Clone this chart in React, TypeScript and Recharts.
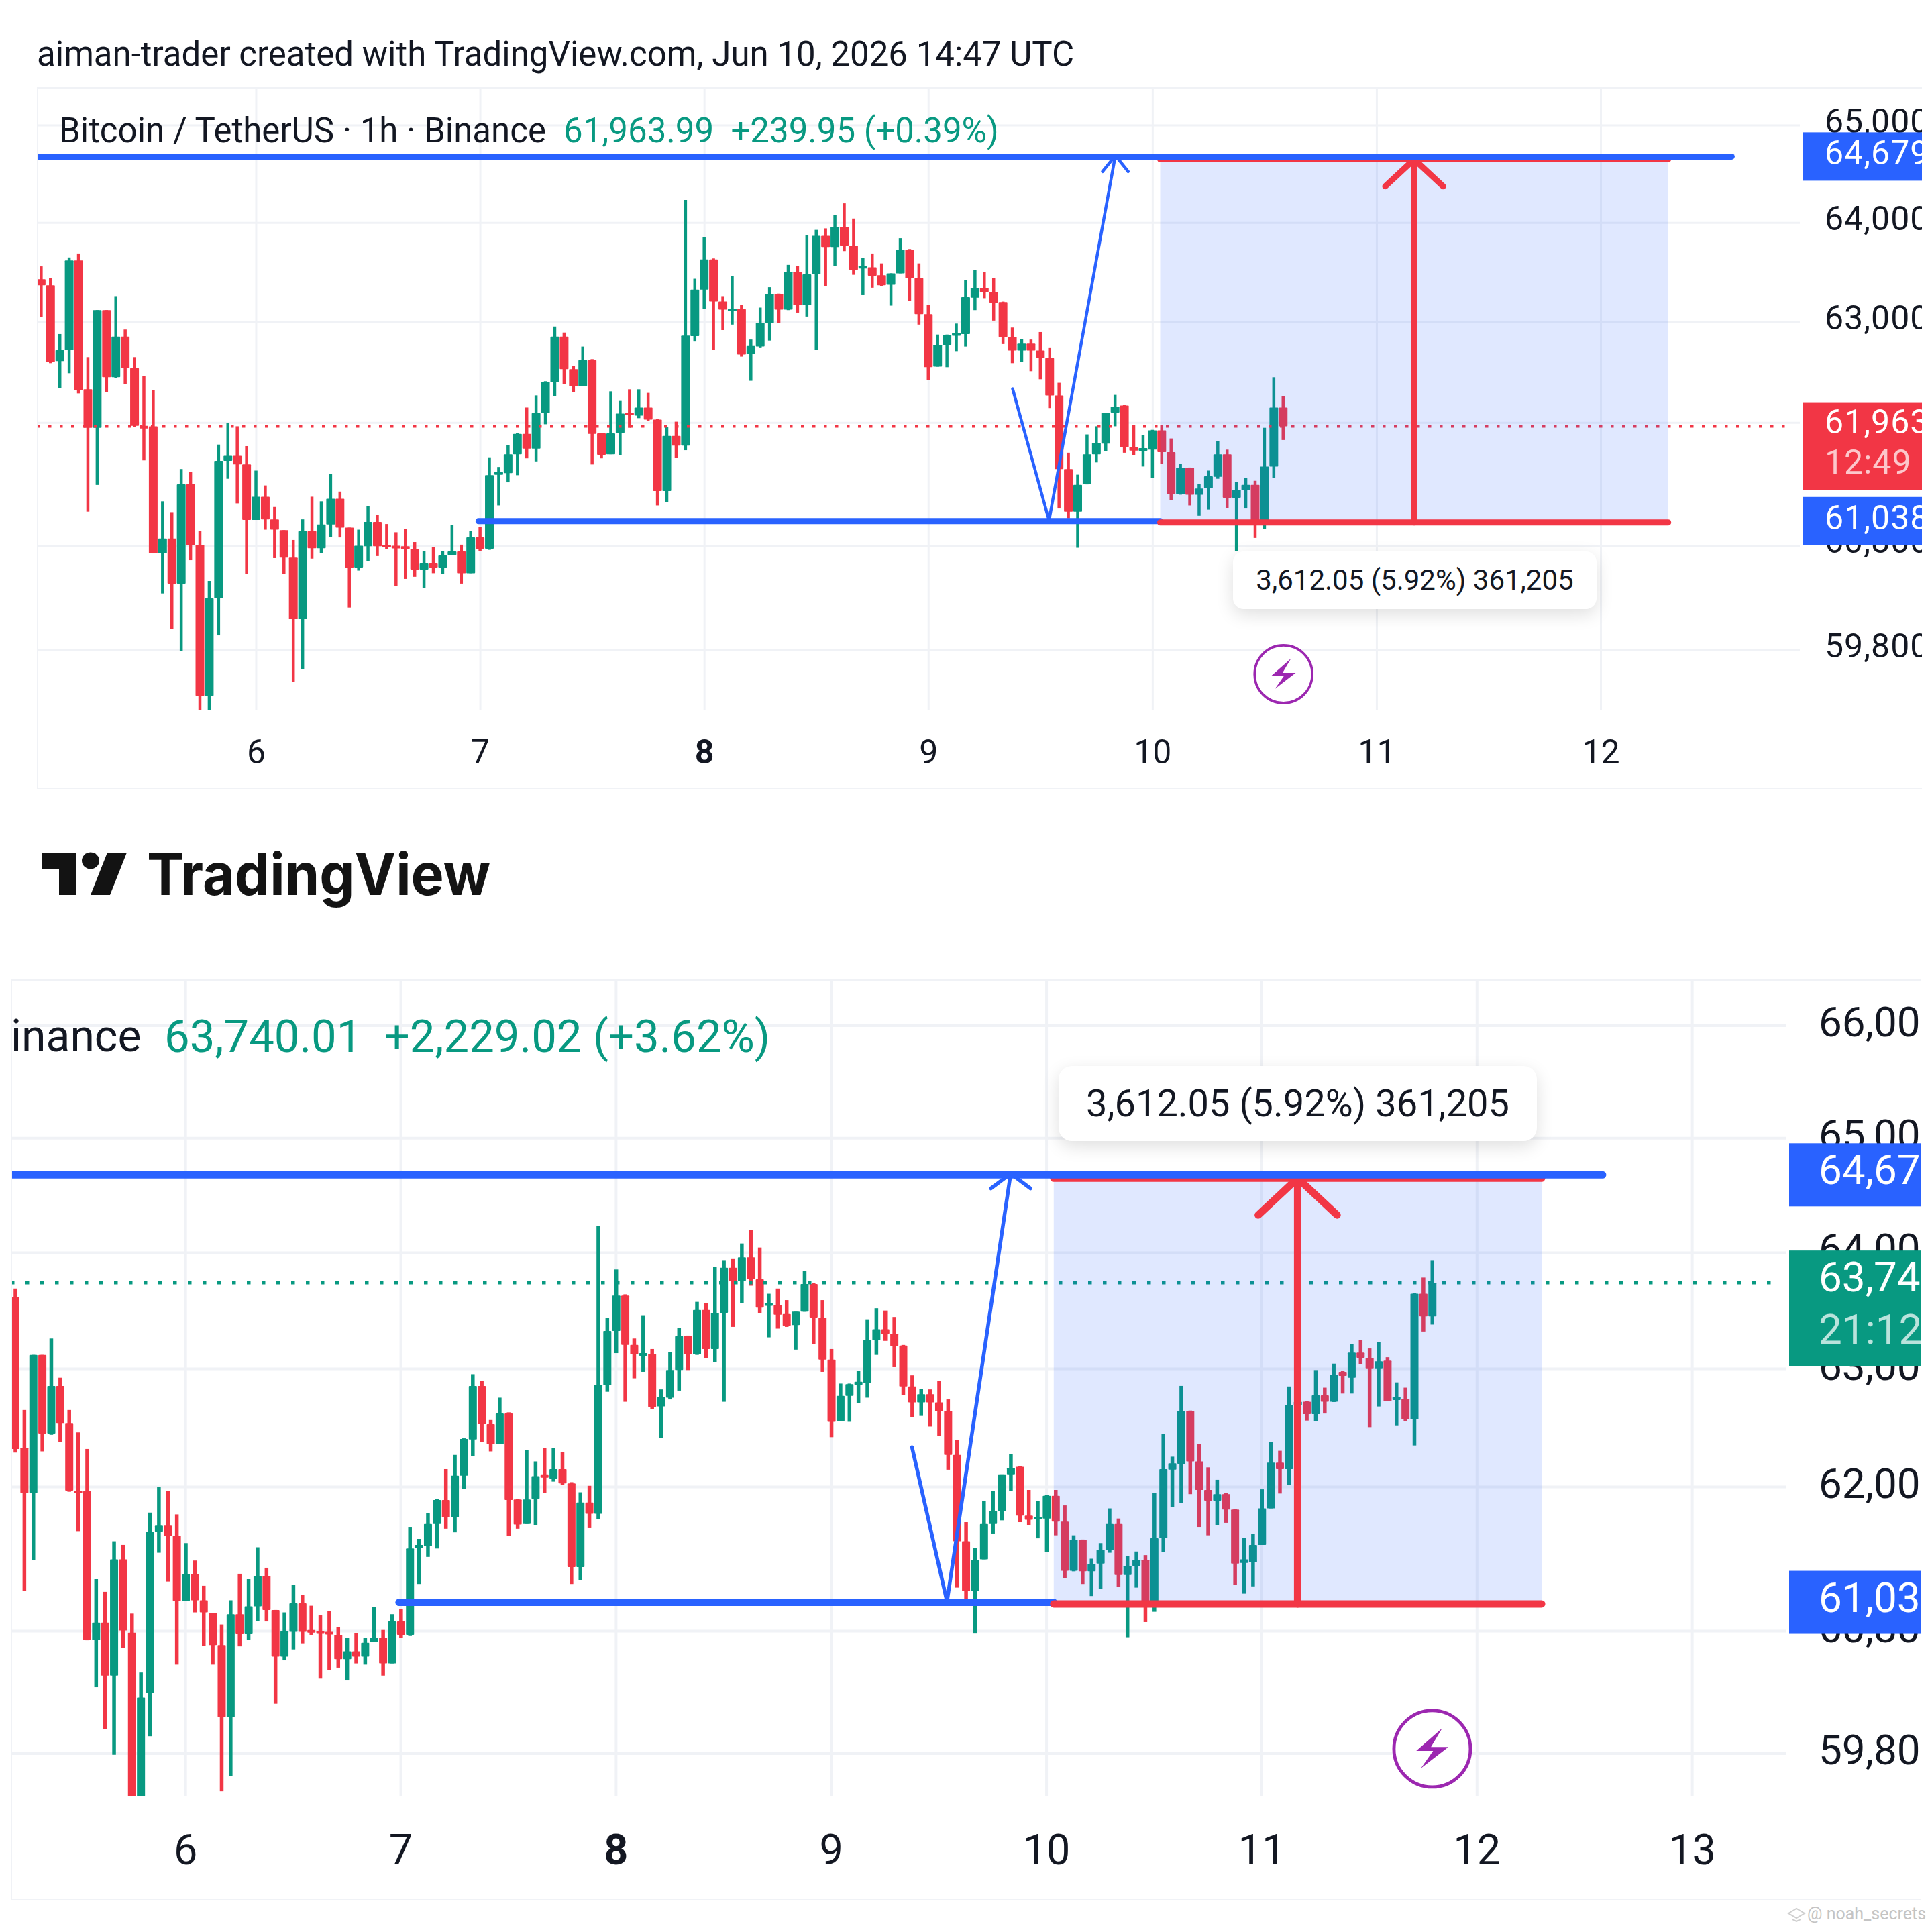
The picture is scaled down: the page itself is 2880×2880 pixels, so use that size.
import { Bar, ComposedChart, ReferenceArea, ReferenceDot, ReferenceLine, XAxis, YAxis } from 'recharts';

const UP = '#089981';
const DOWN = '#f23645';
const BLUE = '#2962ff';
const GRID = '#f0f2f6';
const TEXT = '#131722';

// hours counted from Jun 6 00:00, one candle per hour
const FIRST_HOUR = -23;

const opens = [
  63430, 63370, 62610, 62720, 63620, 62330, 61950, 63120, 62450, 62855,
  62540, 61970, 61965, 60725, 60870, 60435, 61395, 60810, 59380, 60295,
  61625, 61675, 61590, 61050, 61275, 61055, 60950, 60685, 60095, 60940,
  60775, 61005, 61255, 60975, 60590, 60795, 61030, 60810, 60800, 60795,
  60770, 60570, 60635, 60590, 60710, 60745, 60535, 60880, 60770, 61490,
  61505, 61690, 61890, 61745, 62095, 62400, 62855, 62530, 62360, 62620,
  61895, 61690, 61900, 62100, 62070, 62150, 62030, 61330, 61870, 61775,
  62860, 63325, 63630, 63205, 63120, 63130, 62680, 62755, 62990, 63280,
  63125, 63505, 63170, 63480, 63870, 63755, 63960, 63770, 63545, 63550,
  63470, 63375, 63490, 63730, 63440, 63080, 62555, 62770, 62865, 62880,
  63245, 63340, 63300, 63200, 62850, 62715, 62785, 62715, 62640, 62270,
  61545, 61130, 61395, 61690, 61795, 62100, 62170, 61760, 61735, 61735,
  61925, 61710, 61300, 61560, 61295, 61360, 61470, 61690, 61265, 61340,
  61390, 61040, 61570,
  62145, 62195, 62640, 62215, 61975, 61885, 61940, 61810, 61365, 61370,
  61515, 61820, 62205, 62150, 62690, 62720, 62615, 62775, 62720, 62975,
  62925, 63140, 63095, 63005, 63070, 62735, 62745, 62570, 63645, 63450,
];
const highs = [
  63560, 63440, 62880, 63650, 63690, 62650, 63120, 63120, 63260, 62925,
  62650, 62460, 62320, 61230, 61125, 61545, 61515, 60945, 60460, 61785,
  62000, 61965, 61770, 61530, 61385, 61175, 60950, 60855, 61055, 61275,
  61230, 61495, 61325, 60975, 60955, 61185, 61100, 61010, 60930, 60965,
  60835, 60745, 60785, 60745, 61000, 60810, 60940, 60980, 61660, 61565,
  61780, 61900, 62150, 62270, 62410, 62955, 62895, 62565, 62755, 62630,
  61900, 62310, 62215, 62330, 62330, 62295, 62040, 61955, 62010, 64235,
  63435, 63855, 63640, 63260, 63460, 63170, 62825, 63145, 63350, 63285,
  63575, 63565, 63875, 63930, 63945, 64080, 64200, 64045, 63645, 63690,
  63590, 63490, 63845, 63735, 63590, 63170, 62875, 62875, 62985, 63425,
  63520, 63500, 63445, 63205, 62945, 62830, 62825, 62900, 62740, 62395,
  61705, 61490, 61885, 61965, 62100, 62275, 62175, 61975, 61880, 61930,
  61975, 61845, 61595, 61560, 61400, 61530, 61820, 61735, 61420, 61460,
  61430, 61950, 62450,
  62255, 62855, 62645, 62365, 62165, 62060, 61950, 61815, 61575, 61605,
  61980, 62380, 62305, 62850, 62760, 62725, 62990, 62840, 63045, 62985,
  63210, 63250, 63175, 63230, 63100, 62885, 62840, 63650, 63785, 63930,
];
const lows = [
  63050, 62590, 62340, 62490, 62290, 61130, 61390, 62300, 62440, 62380,
  61960, 61630, 60725, 60340, 60000, 59790, 60660, 59220, 59220, 59940,
  61450, 61210, 60525, 61050, 60955, 60680, 60525, 59495, 59620, 60675,
  60730, 60885, 60880, 60205, 60560, 60650, 60700, 60770, 60410, 60480,
  60500, 60395, 60535, 60525, 60710, 60435, 60535, 60745, 60760, 61190,
  61415, 61485, 61650, 61620, 61985, 62260, 62380, 62300, 62360, 61590,
  61650, 61690, 61680, 61950, 62045, 62015, 61190, 61220, 61655, 61730,
  62805, 63135, 62720, 62920, 62975, 62655, 62415, 62740, 62815, 62990,
  63120, 63095, 63055, 62720, 63360, 63565, 63715, 63475, 63270, 63345,
  63360, 63165, 63490, 63215, 62975, 62420, 62555, 62550, 62710, 62755,
  63120, 63240, 63015, 62780, 62590, 62600, 62510, 62430, 62145, 61160,
  61065, 60780, 61395, 61610, 61720, 61965, 61705, 61680, 61570, 61455,
  61595, 61240, 61295, 61190, 61090, 61150, 61450, 61165, 60750, 61160,
  60875, 60960, 61455,
  61830, 61865, 61940, 61660, 61595, 61680, 61700, 61180, 61110, 61170,
  61515, 61820, 61945, 62015, 62640, 62560, 62555, 62620, 62718, 62790,
  62790, 63040, 62505, 62680, 62725, 62520, 62555, 62350, 63320, 63380,
];
const closes = [
  63370, 62600, 62720, 63620, 62320, 61950, 63120, 62450, 62855, 62540,
  61970, 61960, 60725, 60870, 60435, 61395, 60805, 59380, 60295, 61625,
  61675, 61590, 61050, 61275, 61055, 60955, 60685, 60095, 60940, 60775,
  61005, 61255, 60975, 60590, 60800, 61030, 60795, 60790, 60790, 60780,
  60570, 60635, 60590, 60705, 60745, 60535, 60880, 60770, 61485, 61515,
  61690, 61890, 61745, 62095, 62405, 62855, 62530, 62360, 62620, 61890,
  61685, 61895, 62090, 62085, 62150, 62030, 61330, 61870, 61775, 62865,
  63325, 63630, 63205, 63125, 63135, 62675, 62760, 62990, 63280, 63125,
  63505, 63170, 63480, 63870, 63755, 63960, 63770, 63525, 63565, 63465,
  63370, 63490, 63730, 63440, 63080, 62550, 62770, 62870, 62890, 63250,
  63340, 63300, 63195, 62850, 62715, 62785, 62715, 62640, 62270, 61545,
  61130, 61390, 61690, 61800, 62100, 62160, 61760, 61725, 61750, 61925,
  61710, 61300, 61560, 61295, 61355, 61475, 61690, 61265, 61340, 61390,
  61040, 61570, 62150,
  62200, 62640, 62215, 61975, 61885, 61940, 61810, 61360, 61395, 61515,
  61820, 62205, 62150, 62690, 62720, 62615, 62775, 62720, 62950, 62940,
  63140, 63095, 63005, 63065, 62725, 62760, 62570, 63645, 63450, 63740,
];

// the candle still open in the upper screenshot: open, high, low, close
const upperLiveCandle = [62150, 62260, 61830, 61964];
const upperLastHour = 110;
const lowerLastHour = 139;

const rows = opens.map((open, i) => ({
  hour: FIRST_HOUR + i,
  open,
  high: highs[i],
  low: lows[i],
  close: closes[i],
}));

const upperRows = rows
  .filter((r) => r.hour < upperLastHour)
  .concat({
    hour: upperLastHour,
    open: upperLiveCandle[0],
    high: upperLiveCandle[1],
    low: upperLiveCandle[2],
    close: upperLiveCandle[3],
  });
const lowerRows = rows.filter((r) => r.hour >= -19 && r.hour <= lowerLastHour);

const dayLabels = [6, 7, 8, 9, 10, 11, 12, 13];
const boldDay = 8;

// drawing tool levels
const resistance = 64679;
const support = 61038;
const boxTop = 64650;
const boxBottom = 61025;
const boxStartHour = 96.8;
const boxEndHour = 151.2;
const redArrowHour = 124;
const resistanceEndHour = 158;
const supportStartHour = 23.8;
const swingPath = [
  { x: 81, y: 62335 },
  { x: 84.9, y: 61045 },
  { x: 92, y: 64690 },
];

const upperPanel = {
  left: 55,
  top: 130,
  width: 2810,
  height: 1046,
  plotWidth: 2628,
  xAxisHeight: 118,
  xDomain: [-23.49, 165.3],
  yDomain: [59235, 65396],
  priceTicks: [65000, 64000, 63000, 62000, 60800, 59800],
  days: [6, 7, 8, 9, 10, 11, 12],
  rows: upperRows,
  bodyWidth: 13,
  wickWidth: 4.5,
  gridWidth: 3,
  fontSize: 50,
  spacing: 1,
  dayFont: 50,
  tickX: 37,
  tickDy: 11,
  dayDy: 80,
  tagX: 4,
  tagWidth: 178,
  tagHalf: 36,
  tagDy: 12,
  thickLine: 9,
  thinLine: 4.5,
  lastPrice: 61964,
  lastColor: DOWN,
  lastTagLabels: ['61,963', '12:49'],
  lastTagAbove: 36,
  lastTagBelow: 95,
  lastLineDy: [10, 70],
  dottedEnd: 164.4,
  dottedDash: '4.5 12.5',
  dottedWidth: 4,
  redHead: { dx: 3.1, dy: 276 },
  blueHead: { dx: 1.37, dy: 165 },
  boltHour: 110,
  boltPrice: 59571,
  boltRadius: 43,
};

const lowerPanel = {
  left: 16,
  top: 1460,
  width: 2848,
  height: 1373,
  plotWidth: 2647,
  xAxisHeight: 156,
  xDomain: [-19.5, 178.5],
  yDomain: [59458, 66415],
  priceTicks: [66000, 65000, 64000, 63000, 62000, 60800, 59800],
  days: dayLabels,
  rows: lowerRows,
  bodyWidth: 12,
  wickWidth: 5.5,
  gridWidth: 4,
  fontSize: 62,
  spacing: 0,
  dayFont: 63,
  tickX: 48,
  tickDy: 16,
  dayDy: 102,
  tagX: 4,
  tagWidth: 197,
  tagHalf: 47,
  tagDy: 14,
  thickLine: 11,
  thinLine: 5.5,
  lastPrice: 63740,
  lastColor: UP,
  lastTagLabels: ['63,740', '21:12'],
  lastTagAbove: 48,
  lastTagBelow: 124,
  lastLineDy: [13, 91],
  dottedEnd: 177.3,
  dottedDash: '5.5 16.5',
  dottedWidth: 4.5,
  redHead: { dx: 4.4, dy: 323 },
  blueHead: { dx: 2.2, dy: 130 },
  boltHour: 139,
  boltPrice: 59838,
  boltRadius: 57,
};

function Candle(props: any) {
  const { x, y, width, height, payload, bodyWidth, wickWidth, yDomain } = props;
  if (height == null) return null;
  // bar spans high to low, the body is placed inside it on the same log scale
  const hi = Math.min(payload.high, yDomain[1]);
  const lo = Math.max(payload.low, yDomain[0]);
  const span = Math.log(hi) - Math.log(lo) || 1;
  const at = (v: number) => {
    const clamped = Math.max(lo, Math.min(hi, v));
    return y + (height * (Math.log(hi) - Math.log(clamped))) / span;
  };
  const bodyTop = at(Math.max(payload.open, payload.close));
  const bodyBottom = at(Math.min(payload.open, payload.close));
  const color = payload.close >= payload.open ? UP : DOWN;
  const cx = x + width / 2;
  return (
    <g>
      <rect x={cx - wickWidth / 2} y={y} width={wickWidth} height={height} fill={color} />
      <rect
        x={cx - bodyWidth / 2}
        y={bodyTop}
        width={bodyWidth}
        height={Math.max(bodyBottom - bodyTop, 4)}
        fill={color}
        rx={1}
      />
    </g>
  );
}

// price labels hang off the grid lines so the coloured tags can sit over them
function PriceLabel(props: any) {
  const { viewBox, panel, value } = props;
  if (!viewBox) return null;
  return (
    <text
      x={viewBox.x + viewBox.width + panel.tickX}
      y={viewBox.y + panel.tickDy}
      fontSize={panel.fontSize}
      letterSpacing={panel.spacing}
      fill={TEXT}
    >
      {value.toLocaleString('en-US')}
    </text>
  );
}

function PriceTag(props: any) {
  const { viewBox, panel, color, labels, above, below, lineDy } = props;
  if (!viewBox) return null;
  const right = viewBox.x + viewBox.width;
  return (
    <g>
      <rect x={right + panel.tagX} y={viewBox.y - above} width={panel.tagWidth} height={above + below} fill={color} />
      {labels.map((text: string, i: number) => (
        <text
          key={text}
          x={right + panel.tickX}
          y={viewBox.y + lineDy[i]}
          fontSize={panel.fontSize}
          letterSpacing={panel.spacing}
          fill={i === 0 ? '#ffffff' : 'rgba(255,255,255,0.72)'}
        >
          {text}
        </text>
      ))}
    </g>
  );
}

function Bolt({ cx, cy, r }: any) {
  const s = r / 125;
  const pts = [
    [33, -68],
    [-52, 7],
    [3, 7],
    [-37, 64],
    [53, -6],
    [-4, -6],
  ]
    .map(([a, b]) => `${cx + a * s},${cy + b * s}`)
    .join(' ');
  return (
    <g>
      <circle cx={cx} cy={cy} r={r} fill="#ffffff" stroke="#9c27b0" strokeWidth={r * 0.085} />
      <polygon points={pts} fill="#9c27b0" />
    </g>
  );
}

function segment(x1: number, y1: number, x2: number, y2: number) {
  return [
    { x: x1, y: y1 },
    { x: x2, y: y2 },
  ];
}

function PriceChart({ panel }: { panel: typeof upperPanel }) {
  const [xMin] = panel.xDomain;
  const arrowLines = (tipX: number, tipY: number, head: { dx: number; dy: number }) => [
    segment(tipX - head.dx, tipY - head.dy, tipX, tipY),
    segment(tipX + head.dx, tipY - head.dy, tipX, tipY),
  ];
  const redLines = [
    segment(boxStartHour, boxTop, boxEndHour, boxTop),
    segment(boxStartHour, boxBottom, boxEndHour, boxBottom),
    segment(redArrowHour, boxBottom, redArrowHour, boxTop),
    ...arrowLines(redArrowHour, boxTop, panel.redHead),
  ];
  const blueThin = [
    segment(swingPath[0].x, swingPath[0].y, swingPath[1].x, swingPath[1].y),
    segment(swingPath[1].x, swingPath[1].y, swingPath[2].x, swingPath[2].y),
    ...arrowLines(swingPath[2].x, swingPath[2].y, panel.blueHead),
  ];

  return (
    <div
      style={{
        position: 'absolute',
        left: panel.left,
        top: panel.top,
        width: panel.width,
        height: panel.height,
        overflow: 'hidden',
        borderTop: `2px solid ${GRID}`,
        borderBottom: `2px solid ${GRID}`,
        borderLeft: `2px solid ${GRID}`,
        boxSizing: 'border-box',
      }}
    >
      <ComposedChart
        width={panel.width}
        height={panel.height - 4}
        data={panel.rows}
        margin={{ top: -2, right: 0, bottom: -2, left: -2 }}
      >
        {panel.priceTicks.map((p) => (
          <ReferenceLine
            key={`h-${p}`}
            y={p}
            stroke={GRID}
            strokeWidth={panel.gridWidth}
            zIndex={50}
            label={<PriceLabel panel={panel} value={p} />}
          />
        ))}
        {panel.days.map((d) => (
          <ReferenceLine key={`v-${d}`} x={(d - 6) * 24} stroke={GRID} strokeWidth={panel.gridWidth} zIndex={50} />
        ))}
        <XAxis
          dataKey="hour"
          type="number"
          domain={panel.xDomain}
          allowDataOverflow
          ticks={panel.days.map((d) => (d - 6) * 24)}
          interval={0}
          height={panel.xAxisHeight}
          axisLine={false}
          tickLine={false}
          tickSize={0}
          tickMargin={0}
          tick={(p: any) => {
            const day = 6 + p.payload.value / 24;
            return (
              <text
                x={p.x}
                y={p.y + panel.dayDy}
                textAnchor="middle"
                fontSize={panel.dayFont}
                fontWeight={day === boldDay ? 700 : 400}
                fill={TEXT}
              >
                {day}
              </text>
            );
          }}
        />
        <YAxis
          orientation="right"
          scale="log"
          domain={panel.yDomain}
          allowDataOverflow
          ticks={panel.priceTicks}
          interval={0}
          width={panel.width - panel.plotWidth + 2}
          axisLine={false}
          tickLine={false}
          tick={false}
        />
        <Bar
          dataKey={(d: any) => [d.low, d.high]}
          barSize={panel.bodyWidth}
          isAnimationActive={false}
          shape={(p: any) => (
            <Candle {...p} bodyWidth={panel.bodyWidth} wickWidth={panel.wickWidth} yDomain={panel.yDomain} />
          )}
        />
        <ReferenceLine
          segment={segment(xMin, panel.lastPrice, panel.dottedEnd, panel.lastPrice)}
          stroke={panel.lastColor}
          strokeWidth={panel.dottedWidth}
          strokeDasharray={panel.dottedDash}
          ifOverflow="hidden"
          zIndex={350}
        />
        <ReferenceArea
          x1={boxStartHour}
          x2={boxEndHour}
          y1={boxBottom}
          y2={boxTop}
          fill={BLUE}
          fillOpacity={0.145}
          stroke="none"
          ifOverflow="hidden"
          zIndex={360}
        />
        {blueThin.map((s, i) => (
          <ReferenceLine
            key={`thin-${i}`}
            segment={s}
            stroke={BLUE}
            strokeWidth={panel.thinLine}
            strokeLinecap="round"
            ifOverflow="hidden"
            zIndex={370}
          />
        ))}
        <ReferenceLine
          segment={segment(supportStartHour, support, boxStartHour, support)}
          stroke={BLUE}
          strokeWidth={panel.thickLine}
          strokeLinecap="round"
          ifOverflow="hidden"
          zIndex={370}
        />
        {redLines.map((s, i) => (
          <ReferenceLine
            key={`red-${i}`}
            segment={s}
            stroke={DOWN}
            strokeWidth={panel.thickLine}
            strokeLinecap="round"
            ifOverflow="hidden"
            zIndex={380}
          />
        ))}
        <ReferenceLine
          segment={segment(xMin - 10, resistance, resistanceEndHour, resistance)}
          stroke={BLUE}
          strokeWidth={panel.thickLine}
          strokeLinecap="round"
          ifOverflow="hidden"
          zIndex={390}
        />
        <ReferenceDot
          x={panel.boltHour}
          y={panel.boltPrice}
          r={panel.boltRadius}
          ifOverflow="visible"
          shape={(p: any) => <Bolt cx={p.cx} cy={p.cy} r={panel.boltRadius} />}
        />
        <ReferenceLine
          y={resistance}
          stroke="none"
          zIndex={700}
          label={
            <PriceTag
              panel={panel}
              color={BLUE}
              labels={['64,679']}
              above={panel.tagHalf}
              below={panel.tagHalf}
              lineDy={[panel.tagDy]}
            />
          }
        />
        <ReferenceLine
          y={support}
          stroke="none"
          zIndex={700}
          label={
            <PriceTag
              panel={panel}
              color={BLUE}
              labels={['61,038']}
              above={panel.tagHalf}
              below={panel.tagHalf}
              lineDy={[panel.tagDy]}
            />
          }
        />
        <ReferenceLine
          y={panel.lastPrice}
          stroke="none"
          zIndex={700}
          label={
            <PriceTag
              panel={panel}
              color={panel.lastColor}
              labels={panel.lastTagLabels}
              above={panel.lastTagAbove}
              below={panel.lastTagBelow}
              lineDy={panel.lastLineDy}
            />
          }
        />
      </ComposedChart>
    </div>
  );
}

function Note({ left, top, size, children, color = TEXT, weight = 400 }: any) {
  return (
    <div
      style={{
        position: 'absolute',
        left,
        top: top - size,
        lineHeight: `${size * 2}px`,
        fontSize: size,
        fontWeight: weight,
        color,
        whiteSpace: 'pre',
      }}
    >
      {children}
    </div>
  );
}

function Pill({ left, top, width, height, size, radius }: any) {
  return (
    <div
      style={{
        position: 'absolute',
        left,
        top,
        width,
        height,
        lineHeight: `${height}px`,
        fontSize: size,
        textAlign: 'center',
        color: TEXT,
        background: '#ffffff',
        borderRadius: radius,
        boxShadow: '0 8px 26px rgba(0,0,0,0.13)',
        whiteSpace: 'pre',
      }}
    >
      3,612.05 (5.92%) 361,205
    </div>
  );
}

function Logo() {
  return (
    <svg
      style={{ position: 'absolute', left: 0, top: 1240 }}
      width={800}
      height={130}
      viewBox="0 0 800 130"
    >
      <path d="M62 31 H113.5 V94 H88 V56 H62 Z" fill="#131313" />
      <ellipse cx={135} cy={43} rx={13} ry={12.5} fill="#131313" />
      <path d="M160 31 H189 L164 94 H135 Z" fill="#131313" />
      <text
        x={219}
        y={94}
        fontFamily="Inter"
        fontWeight={700}
        fontSize={87}
        textLength={512}
        lengthAdjust="spacingAndGlyphs"
        fill="#131313"
      >
        TradingView
      </text>
    </svg>
  );
}

export default function App() {
  return (
    <div
      style={{
        position: 'absolute',
        left: 0,
        top: 0,
        width: 2880,
        height: 2880,
        background: '#ffffff',
        overflow: 'hidden',
        fontFamily: 'Roboto, sans-serif',
      }}
    >
      <PriceChart panel={upperPanel} />
      <PriceChart panel={lowerPanel} />

      <Note left={55} top={81} size={51}>
        aiman-trader created with TradingView.com, Jun 10, 2026 14:47 UTC
      </Note>
      <Note left={88} top={195} size={51}>
        Bitcoin / TetherUS · 1h · Binance
      </Note>
      <Note left={840} top={195} size={51} color={UP}>
        61,963.99  +239.95 (+0.39%)
      </Note>
      <Note left={16} top={1545} size={66}>
        inance
      </Note>
      <Note left={245} top={1545} size={67} color={UP}>
        63,740.01  +2,229.02 (+3.62%)
      </Note>

      <Pill left={1838} top={822} width={542} height={86} size={42} radius={16} />
      <Pill left={1578} top={1589} width={713} height={112} size={56} radius={20} />

      <Logo />

      <svg style={{ position: 'absolute', left: 2664, top: 2840 }} width={28} height={26} viewBox="0 0 28 26">
        <path d="M2 12 L14 5 L26 12 L14 19 Z M8 21 L14 24 L20 21" fill="none" stroke="#cfcfcf" strokeWidth={2} />
      </svg>
      <Note left={2694} top={2853} size={25} color="#c4c4c4">
        @ noah_secrets
      </Note>
    </div>
  );
}
